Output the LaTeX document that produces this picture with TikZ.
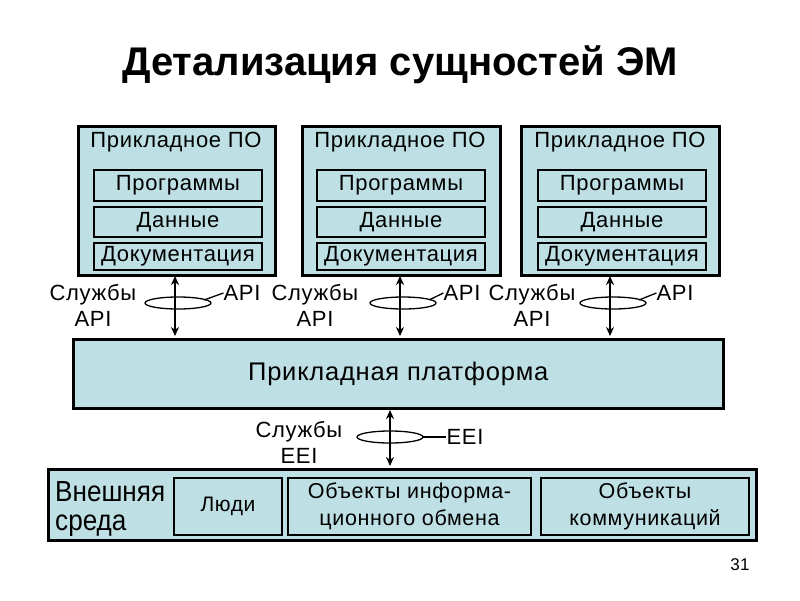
\documentclass[tikz,border=0pt]{standalone}
\usepackage{fontspec}
\setmainfont[LetterSpace=3]{Liberation Sans}
\newfontfamily\titlefont{Liberation Sans}
\newfontfamily\narrowsans[FakeStretch=0.9]{Liberation Sans}
\usetikzlibrary{arrows.meta,calc}
\definecolor{boxfill}{RGB}{190,224,228}
\begin{document}
\begin{tikzpicture}[x=1pt,y=-1pt,
  outerbox/.style={draw, line width=2.5pt, fill=boxfill, inner sep=0pt},
  innerbox/.style={draw, line width=2pt, fill=boxfill, minimum width=168pt, inner sep=0pt, font=\fontsize{22}{24}\selectfont},
  lbl/.style={font=\fontsize{22}{26}\selectfont, inner sep=0pt, align=center},
  dblarrow/.style={line width=2pt, {Stealth[length=9pt,width=8pt]}-{Stealth[length=9pt,width=8pt]}},
  ring/.style={line width=1.3pt},
  leader/.style={line width=1.3pt}]
\useasboundingbox (0,0) rectangle (800,600);

% title
\node[font=\titlefont\fontsize{40}{44}\selectfont\bfseries] (title) at (400,65) {Детализация сущностей ЭМ};

% top boxes
\foreach \n/\x/\w/\c in {1/77/197/176, 2/301/198/400, 3/520/198/620} {
  \node[outerbox, anchor=north west, minimum width=\w pt, minimum height=149pt] (b\n) at (\x,125) {};
  \node[lbl, font=\fontsize{22}{24}\selectfont] (h\n) at (\c,142) {Прикладное ПО};
}
\foreach \n/\c in {1/178, 2/401, 3/622} {
  \node[innerbox, minimum height=31pt] (p\n) at (\c,185) {Программы};
  \node[innerbox, minimum height=30pt] (d\n) at (\c,222) {Данные};
  \node[innerbox, minimum height=27pt] (k\n) at (\c,256) {Документация};
}

% platform
\node[outerbox, anchor=north west, minimum width=650pt, minimum height=69pt, font=\fontsize{25.5}{30}\selectfont] (plat) at (72,338) {Прикладная платформа};

% bottom
\node[outerbox, anchor=north west, minimum width=708pt, minimum height=71pt] (env) at (47,468) {};
\node[lbl, font=\narrowsans\fontsize{29}{29}\selectfont, align=left, anchor=west] (envt) at (55,509) {Внешняя\\среда};
\node[innerbox, anchor=north west, minimum width=108pt, minimum height=57pt, font=\fontsize{21}{27}\selectfont] (people) at (173,477) {Люди};
\node[innerbox, anchor=north west, minimum width=243pt, minimum height=57pt, align=center, font=\fontsize{21.5}{27}\selectfont] (info) at (287,477) {Объекты информа-\\ционного обмена};
\node[innerbox, anchor=north west, minimum width=208pt, minimum height=57pt, align=center, font=\fontsize{21.5}{27}\selectfont] (comm) at (540,477) {Объекты\\коммуникаций};

% API interfaces
\foreach \n/\ax/\sx/\ix in {1/175/93/242, 2/400/315/462, 3/610/532/675} {
  \coordinate (top\n) at (\ax,276);
  \coordinate (bot\n) at (\ax,336);
  \draw[ring] (\ax+3,303) ellipse [x radius=33pt, y radius=6pt];
  \draw[dblarrow] (top\n) -- (bot\n);
  \node[lbl] (api\n) at (\ix,293) {API};
  \coordinate (ringr\n) at (\ax+29,300);
  \draw[leader] (ringr\n) -- (api\n.west);
  \node[lbl] (srv\n) at (\sx,305) {Службы\\API};
}

% EEI interface
\coordinate (topE) at (390,410);
\coordinate (botE) at (390,466);
\draw[ring] (390,437) ellipse [x radius=33pt, y radius=6pt];
\draw[dblarrow] (topE) -- (botE);
\node[lbl] (eei) at (465,437) {EEI};
\coordinate (ringE) at (423,437);
\draw[leader] (ringE) -- (eei.west);
\node[lbl] (srvE) at (299,442) {Службы\\EEI};

% page number
\node[font=\fontsize{17}{19}\selectfont] (pg) at (740,565) {31};
\end{tikzpicture}
\end{document}
